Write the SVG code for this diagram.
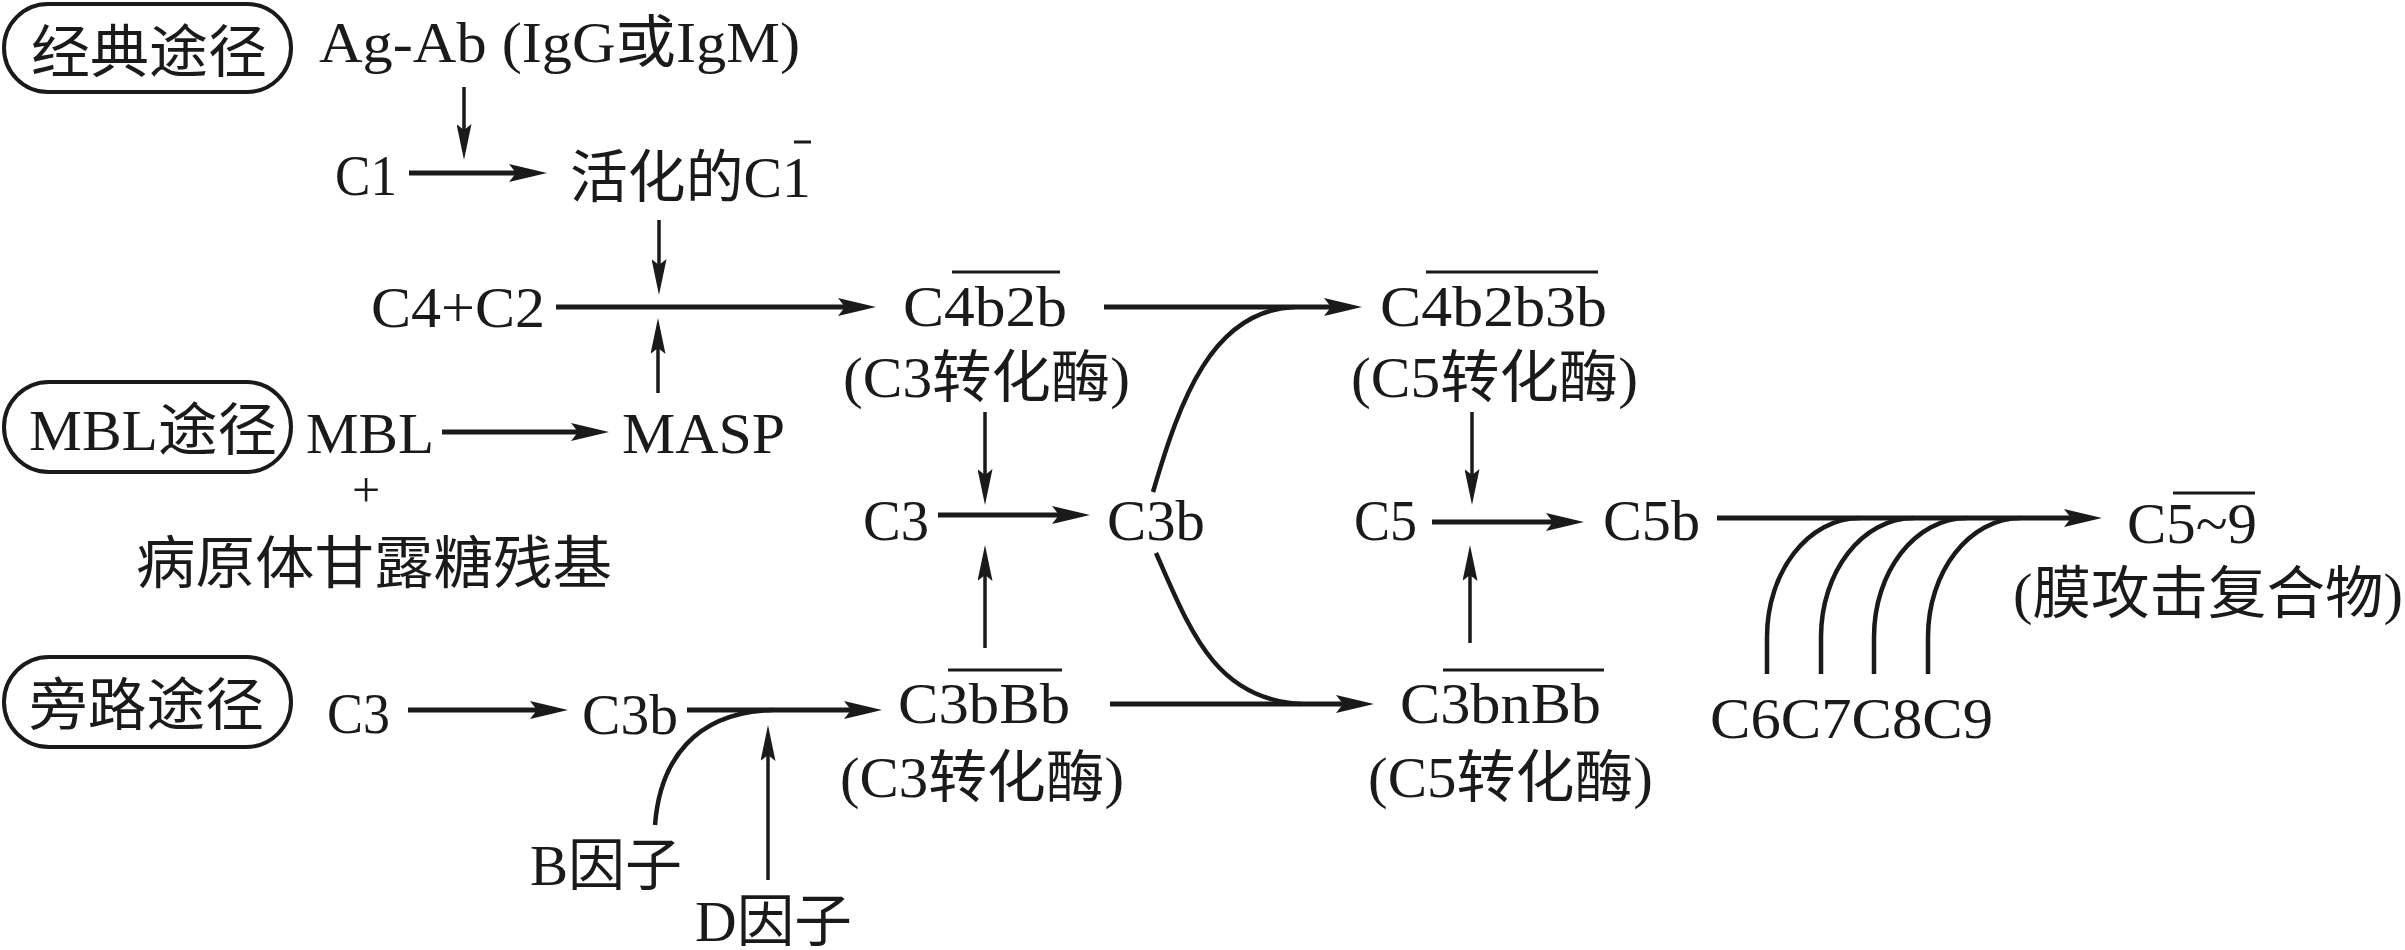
<svg xmlns="http://www.w3.org/2000/svg" width="2405" height="950" viewBox="0 0 2405 950">
<style>
.t{font-family:"Liberation Serif","Noto Sans CJK SC",serif;font-size:57px;fill:#1a1a1a}
.box{fill:none;stroke:#1a1a1a;stroke-width:4}
.bar{stroke:#1a1a1a;stroke-width:3}
.h{fill:none;stroke:#1a1a1a;stroke-width:5}
.v{fill:none;stroke:#1a1a1a;stroke-width:3.5}
.c{fill:none;stroke:#1a1a1a;stroke-width:4.5}
</style>
<defs>
<marker id="ah" viewBox="0 0 38 18" refX="20" refY="9" markerWidth="38" markerHeight="18" orient="auto" markerUnits="userSpaceOnUse">
<path d="M0,0 L38,9 L0,18 L7,9 z" fill="#1a1a1a"/>
</marker>
<marker id="av" viewBox="0 0 36 15" refX="20" refY="7.5" markerWidth="36" markerHeight="15" orient="auto" markerUnits="userSpaceOnUse">
<path d="M0,0 L36,7.5 L0,15 L6,7.5 z" fill="#1a1a1a"/>
</marker>
</defs>

<g id="classic-label">
<rect class="box" x="4" y="4" width="287" height="88" rx="44"/>
<text class="t" x="31" y="72" textLength="236" lengthAdjust="spacingAndGlyphs">经典途径</text>
</g>
<g id="mbl-label">
<rect class="box" x="4" y="382" width="287" height="90" rx="45"/>
<text class="t" x="29" y="450" textLength="248" lengthAdjust="spacingAndGlyphs">MBL途径</text>
</g>
<g id="alt-label">
<rect class="box" x="4" y="657" width="287" height="90" rx="45"/>
<text class="t" x="29" y="725" textLength="235" lengthAdjust="spacingAndGlyphs">旁路途径</text>
</g>

<g id="agab"><text class="t" x="319" y="62" textLength="481" lengthAdjust="spacingAndGlyphs">Ag-Ab (IgG或IgM)</text></g>
<g id="c1"><text class="t" x="335" y="195" textLength="62" lengthAdjust="spacingAndGlyphs">C1</text></g>
<g id="c1-active"><text class="t" x="570" y="197" textLength="241" lengthAdjust="spacingAndGlyphs">活化的C1</text><line class="bar" x1="794" y1="142" x2="811" y2="142"/></g>
<g id="c4c2"><text class="t" x="371" y="327" textLength="174" lengthAdjust="spacingAndGlyphs">C4+C2</text></g>
<g id="c4b2b"><text class="t" x="903" y="326" textLength="164" lengthAdjust="spacingAndGlyphs">C4b2b</text><line class="bar" x1="952" y1="272" x2="1060" y2="272"/>
<text class="t" x="843" y="397" textLength="287" lengthAdjust="spacingAndGlyphs">(C3转化酶)</text></g>
<g id="c4b2b3b"><text class="t" x="1380" y="326" textLength="227" lengthAdjust="spacingAndGlyphs">C4b2b3b</text><line class="bar" x1="1426" y1="272" x2="1598" y2="272"/>
<text class="t" x="1351" y="397" textLength="287" lengthAdjust="spacingAndGlyphs">(C5转化酶)</text></g>
<g id="mbl"><text class="t" x="306" y="453" textLength="128" lengthAdjust="spacingAndGlyphs">MBL</text></g>
<g id="masp"><text class="t" x="622" y="453" textLength="163" lengthAdjust="spacingAndGlyphs">MASP</text></g>
<g id="mannose"><text class="t" x="366" y="507" text-anchor="middle" style="font-size:50px">+</text>
<text class="t" x="136" y="583" textLength="476" lengthAdjust="spacingAndGlyphs">病原体甘露糖残基</text></g>
<g id="c3-mid"><text class="t" x="863" y="540" textLength="66" lengthAdjust="spacingAndGlyphs">C3</text></g>
<g id="c3b-mid"><text class="t" x="1107" y="540" textLength="98" lengthAdjust="spacingAndGlyphs">C3b</text></g>
<g id="c5"><text class="t" x="1354" y="540" textLength="63" lengthAdjust="spacingAndGlyphs">C5</text></g>
<g id="c5b"><text class="t" x="1603" y="540" textLength="97" lengthAdjust="spacingAndGlyphs">C5b</text></g>
<g id="mac"><text class="t" x="2127" y="543" textLength="130" lengthAdjust="spacingAndGlyphs">C5~9</text><line class="bar" x1="2173" y1="493" x2="2255" y2="493"/>
<text class="t" x="2013" y="613" textLength="390" lengthAdjust="spacingAndGlyphs">(膜攻击复合物)</text></g>
<g id="c6c9"><text class="t" x="1710" y="738" textLength="283" lengthAdjust="spacingAndGlyphs">C6C7C8C9</text></g>
<g id="c3-alt"><text class="t" x="327" y="733" textLength="63" lengthAdjust="spacingAndGlyphs">C3</text></g>
<g id="c3b-alt"><text class="t" x="582" y="734" textLength="96" lengthAdjust="spacingAndGlyphs">C3b</text></g>
<g id="c3bbb"><text class="t" x="898" y="723" textLength="172" lengthAdjust="spacingAndGlyphs">C3bBb</text><line class="bar" x1="948" y1="670" x2="1062" y2="670"/>
<text class="t" x="840" y="797" textLength="284" lengthAdjust="spacingAndGlyphs">(C3转化酶)</text></g>
<g id="c3bnbb"><text class="t" x="1400" y="723" textLength="201" lengthAdjust="spacingAndGlyphs">C3bnBb</text><line class="bar" x1="1443" y1="670" x2="1604" y2="670"/>
<text class="t" x="1368" y="797" textLength="285" lengthAdjust="spacingAndGlyphs">(C5转化酶)</text></g>
<g id="factor-b"><text class="t" x="530" y="885" textLength="152" lengthAdjust="spacingAndGlyphs">B因子</text></g>
<g id="factor-d"><text class="t" x="695" y="941" textLength="157" lengthAdjust="spacingAndGlyphs">D因子</text></g>

<g id="connectors">
<path class="v" d="M464,87 V144" marker-end="url(#av)"/>
<path class="h" d="M409,173 H529" marker-end="url(#ah)"/>
<path class="v" d="M659,220 V279" marker-end="url(#av)"/>
<path class="h" d="M556,307 H858" marker-end="url(#ah)"/>
<path class="v" d="M658,393 V334" marker-end="url(#av)"/>
<path class="h" d="M442,432 H591" marker-end="url(#ah)"/>
<path class="h" d="M1104,307 H1344" marker-end="url(#ah)"/>
<path class="c" d="M1153,492 C1180,400 1212,310 1295,307"/>
<path class="v" d="M985,412 V489" marker-end="url(#av)"/>
<path class="h" d="M938,515 H1072" marker-end="url(#ah)"/>
<path class="v" d="M985,648 V561" marker-end="url(#av)"/>
<path class="c" d="M1156,553 C1190,630 1215,700 1302,704"/>
<path class="v" d="M1472,412 V489" marker-end="url(#av)"/>
<path class="h" d="M1432,522 H1566" marker-end="url(#ah)"/>
<path class="v" d="M1470,643 V561" marker-end="url(#av)"/>
<path class="h" d="M1717,518 H2084" marker-end="url(#ah)"/>
<path class="c" d="M1767,674 V637 C1767,572 1808,518 1860,518"/>
<path class="c" d="M1821,674 V637 C1821,572 1862,518 1914,518"/>
<path class="c" d="M1874,674 V637 C1874,572 1915,518 1967,518"/>
<path class="c" d="M1928,674 V637 C1928,572 1969,518 2021,518"/>
<path class="h" d="M408,710 H550" marker-end="url(#ah)"/>
<path class="h" d="M687,710 H864" marker-end="url(#ah)"/>
<path class="c" d="M655,825 C660,760 695,712 773,710"/>
<path class="v" d="M768,880 V741" marker-end="url(#av)"/>
<path class="h" d="M1110,704 H1356" marker-end="url(#ah)"/>
</g>
</svg>
